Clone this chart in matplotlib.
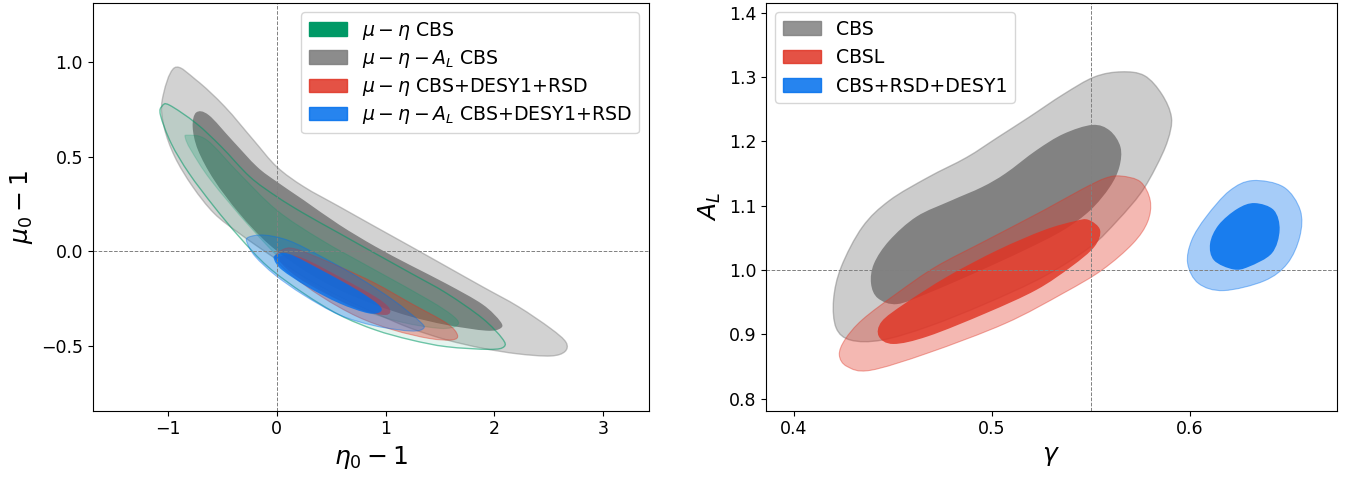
import numpy as np
from matplotlib import pyplot as plt
from matplotlib.path import Path
from matplotlib.patches import PathPatch, Patch

# contour outlines (data units)
# left panel: eta_0 - 1 vs mu_0 - 1
al_cbs_2s_x = [-0.94, -0.74, -0.477, -0.214, 0.0, 0.247, 0.576, 0.905, 1.234, 1.5625, 1.891, 2.22, 2.516, 2.658,
               2.648, 2.516, 2.22, 1.891, 1.5625, 1.234, 0.905, 0.576, 0.247, -0.082, -0.345, -0.576, -0.773,
               -0.9375, -1.036, -1.053]
al_cbs_2s_y = [0.97, 0.905, 0.764, 0.588, 0.447, 0.342, 0.236, 0.13, 0.025, -0.081, -0.187, -0.292, -0.407, -0.48,
               -0.53, -0.553, -0.542, -0.512, -0.468, -0.407, -0.327, -0.239, -0.134, -0.011, 0.095, 0.201, 0.342,
               0.5, 0.658, 0.799]
al_cbs_1s_x = [-0.74, -0.625, -0.411, -0.181, 0.0, 0.247, 0.576, 0.905, 1.234, 1.5625, 1.891, 2.056, 2.056, 1.924,
               1.5625, 1.234, 0.905, 0.576, 0.247, -0.082, -0.345, -0.576, -0.724, -0.773]
al_cbs_1s_y = [0.734, 0.72, 0.588, 0.447, 0.368, 0.271, 0.14, 0.026, -0.075, -0.172, -0.28, -0.371, -0.407, -0.419,
               -0.389, -0.345, -0.283, -0.204, -0.099, 0.042, 0.201, 0.377, 0.535, 0.658]
cbs_2s_x = [-1.053, -0.987, -0.74, -0.51, -0.247, 0.0, 0.247, 0.576, 0.905, 1.234, 1.5625, 1.891, 2.072, 2.089,
            1.957, 1.5625, 1.234, 0.905, 0.576, 0.247, -0.082, -0.345, -0.576, -0.806, -0.97, -1.069]
cbs_2s_y = [0.768, 0.773, 0.676, 0.553, 0.394, 0.289, 0.201, 0.095, -0.011, -0.116, -0.222, -0.354, -0.46, -0.504,
            -0.518, -0.504, -0.468, -0.415, -0.336, -0.222, -0.081, 0.077, 0.236, 0.412, 0.57, 0.72]
cbs_1s_x = [-0.822, -0.641, -0.345, 0.0, 0.411, 0.905, 1.398, 1.628, 1.661, 1.497, 1.069, 0.576, 0.115, -0.247,
            -0.608, -0.789, -0.839]
cbs_1s_y = [0.614, 0.588, 0.412, 0.218, 0.06, -0.099, -0.257, -0.345, -0.389, -0.407, -0.363, -0.257, -0.081, 0.13,
            0.377, 0.535, 0.597]
cbs_ext_2s_x = [0.049, 0.181, 0.576, 0.905, 1.234, 1.5625, 1.661, 1.612, 1.398, 1.069, 0.74, 0.411, 0.115, -0.01]
cbs_ext_2s_y = [0.007, 0.011, -0.081, -0.169, -0.275, -0.38, -0.442, -0.468, -0.46, -0.415, -0.345, -0.239, -0.116,
                -0.037]
cbs_ext_1s_x = [0.066, 0.247, 0.576, 0.905, 1.036, 1.003, 0.773, 0.444, 0.181, 0.033]
cbs_ext_1s_y = [-0.019, -0.037, -0.134, -0.239, -0.301, -0.336, -0.31, -0.222, -0.134, -0.055]
al_ext_2s_x = [-0.263, -0.115, 0.115, 0.411, 0.74, 1.069, 1.316, 1.349, 1.234, 0.905, 0.576, 0.247, -0.016, -0.197,
               -0.27]
al_ext_2s_y = [0.074, 0.086, 0.056, -0.028, -0.134, -0.257, -0.371, -0.407, -0.421, -0.394, -0.336, -0.231, -0.125,
               -0.028, 0.042]
al_ext_1s_x = [-0.01, 0.115, 0.411, 0.74, 0.938, 0.954, 0.839, 0.576, 0.28, 0.049, -0.023]
al_ext_1s_y = [-0.019, -0.014, -0.099, -0.204, -0.283, -0.319, -0.327, -0.275, -0.187, -0.099, -0.046]

# right panel: gamma vs A_L
gam_cbs_2s = [0.5653, 0.577, 0.5858, 0.5906, 0.5887, 0.5828, 0.575, 0.5634, 0.5497, 0.5263, 0.4971, 0.4678, 0.4444,
              0.4288, 0.4214, 0.4201, 0.424, 0.4347, 0.4483, 0.4678, 0.4873, 0.5029, 0.5185, 0.5361, 0.5517]
al_cbs_2s = [1.308, 1.302, 1.273, 1.237, 1.201, 1.16, 1.119, 1.077, 1.036, 0.99, 0.948, 0.912, 0.891, 0.891, 0.91,
             0.954, 1.005, 1.067, 1.108, 1.144, 1.175, 1.206, 1.237, 1.273, 1.3]
gam_cbs_1s = [0.5507, 0.5595, 0.5649, 0.5643, 0.5595, 0.5497, 0.5361, 0.5166, 0.4912, 0.4678, 0.4522, 0.4425, 0.439,
              0.4405, 0.4483, 0.462, 0.4795, 0.4951, 0.5068, 0.5224, 0.5361]
al_cbs_1s = [1.2255, 1.2167, 1.191, 1.16, 1.129, 1.093, 1.062, 1.031, 0.995, 0.964, 0.947, 0.956, 0.979, 1.01, 1.046,
             1.083, 1.108, 1.129, 1.15, 1.186, 1.2115]
gam_cbsl_2s = [0.5653, 0.575, 0.5799, 0.5786, 0.5711, 0.5556, 0.5361, 0.5068, 0.4678, 0.4386, 0.4269, 0.423, 0.4259,
               0.4347, 0.4522, 0.4717, 0.4971, 0.5263, 0.5458, 0.5575]
al_cbsl_2s = [1.146, 1.137, 1.108, 1.075, 1.041, 1.0, 0.964, 0.917, 0.871, 0.844, 0.85, 0.868, 0.892, 0.923, 0.964,
              1.005, 1.046, 1.093, 1.126, 1.143]
gam_cbsl_1s = [0.5487, 0.5546, 0.5517, 0.54, 0.5224, 0.4971, 0.4678, 0.4503, 0.4429, 0.4444, 0.4561, 0.4776, 0.5029,
               0.5263, 0.5419]
al_cbsl_1s = [1.078, 1.062, 1.036, 1.005, 0.969, 0.933, 0.897, 0.885, 0.897, 0.92, 0.948, 0.99, 1.031, 1.062, 1.076]
gam_ext_2s = [0.6316, 0.6472, 0.6556, 0.6554, 0.6491, 0.6374, 0.617, 0.6043, 0.5988, 0.6008, 0.6082, 0.6199]
al_ext_2s = [1.139, 1.129, 1.093, 1.052, 1.01, 0.983, 0.968, 0.979, 1.01, 1.046, 1.083, 1.123]
gam_ext_1s = [0.6326, 0.6423, 0.6452, 0.6413, 0.6296, 0.6218, 0.6121, 0.6101, 0.6144, 0.6238]
al_ext_1s = [1.104, 1.093, 1.062, 1.026, 1.005, 1.001, 1.015, 1.041, 1.07, 1.095]

left_labels = [r'$\mu-\eta$ CBS', r'$\mu-\eta-A_L$ CBS', r'$\mu-\eta$ CBS+DESY1+RSD',
               r'$\mu-\eta-A_L$ CBS+DESY1+RSD']
right_labels = ['CBS', 'CBSL', 'CBS+RSD+DESY1']

green, red, blue, grey = '#009966', '#E03424', '#006FED', '#808080'


def contour(ax, xs, ys, face, alpha, edge=None, lw=0.8, ealpha=0.6):
    # closed smooth curve through the outline points (cubic bezier, catmull-rom handles)
    p = np.column_stack([xs, ys])
    n = len(p)
    verts = [p[0]]
    codes = [Path.MOVETO]
    for i in range(n):
        p0, p1, p2, p3 = p[i - 1], p[i], p[(i + 1) % n], p[(i + 2) % n]
        verts += [p1 + (p2 - p0) / 6, p2 - (p3 - p1) / 6, p2]
        codes += [Path.CURVE4] * 3
    path = Path(verts, codes)
    ax.add_patch(PathPatch(path, facecolor=face, alpha=alpha, lw=0))
    if edge is not None:
        ax.add_patch(PathPatch(path, facecolor='none', edgecolor=edge, alpha=ealpha, lw=lw))


fig = plt.figure(figsize=(13.51, 4.78), dpi=100)
ax1 = fig.add_axes([0.0686, 0.1408, 0.4115, 0.8536])
ax2 = fig.add_axes([0.567, 0.1408, 0.4224, 0.8536])

# left panel
contour(ax1, al_cbs_2s_x, al_cbs_2s_y, grey, 0.35, grey, 1.0, 0.45)
contour(ax1, al_cbs_1s_x, al_cbs_1s_y, grey, 0.95)
contour(ax1, cbs_2s_x, cbs_2s_y, green, 0.10, green, 1.0, 0.55)
contour(ax1, cbs_1s_x, cbs_1s_y, green, 0.22, green, 0.8, 0.2)
contour(ax1, cbs_ext_2s_x, cbs_ext_2s_y, red, 0.35, red, 0.8, 0.4)
contour(ax1, cbs_ext_1s_x, cbs_ext_1s_y, red, 0.7)
contour(ax1, al_ext_2s_x, al_ext_2s_y, blue, 0.3, blue, 0.8, 0.4)
contour(ax1, al_ext_1s_x, al_ext_1s_y, blue, 0.8)

ax1.axvline(0, color='grey', ls='--', lw=0.7)
ax1.axhline(0, color='grey', ls='--', lw=0.7)
ax1.set_xlim(-1.692, 3.418)
ax1.set_ylim(-0.842, 1.314)
ax1.set_xticks([-1, 0, 1, 2, 3])
ax1.set_yticks([-0.5, 0.0, 0.5, 1.0])
ax1.set_xlabel(r'$\eta_0-1$', fontsize=18)
ax1.set_ylabel(r'$\mu_0-1$', fontsize=18)
ax1.tick_params(labelsize=12.5)
handles1 = [Patch(color=c, alpha=a, label=l)
            for c, a, l in zip([green, grey, red, blue], [1.0, 0.9, 0.85, 0.85], left_labels)]
ax1.legend(handles=handles1, loc='upper right', fontsize=13.6, labelspacing=0.32)

# right panel
contour(ax2, gam_cbs_2s, al_cbs_2s, grey, 0.4, grey, 1.0, 0.5)
contour(ax2, gam_cbs_1s, al_cbs_1s, grey, 0.97)
contour(ax2, gam_cbsl_2s, al_cbsl_2s, red, 0.35, red, 0.8, 0.4)
contour(ax2, gam_cbsl_1s, al_cbsl_1s, red, 0.82)
contour(ax2, gam_ext_2s, al_ext_2s, blue, 0.35, blue, 0.8, 0.4)
contour(ax2, gam_ext_1s, al_ext_1s, blue, 0.85)

ax2.axvline(0.55, color='grey', ls='--', lw=0.7)
ax2.axhline(1.0, color='grey', ls='--', lw=0.7)
ax2.set_xlim(0.386, 0.674)
ax2.set_ylim(0.7813, 1.4155)
ax2.set_xticks([0.4, 0.5, 0.6])
ax2.set_yticks([0.8, 0.9, 1.0, 1.1, 1.2, 1.3, 1.4])
ax2.set_xlabel(r'$\gamma$', fontsize=18)
ax2.set_ylabel(r'$A_L$', fontsize=18)
ax2.tick_params(labelsize=12.5)
handles2 = [Patch(color=c, alpha=0.85, label=l) for c, l in zip([grey, red, blue], right_labels)]
ax2.legend(handles=handles2, loc='upper left', fontsize=13.6)

fig.savefig('out.png', dpi=100)
